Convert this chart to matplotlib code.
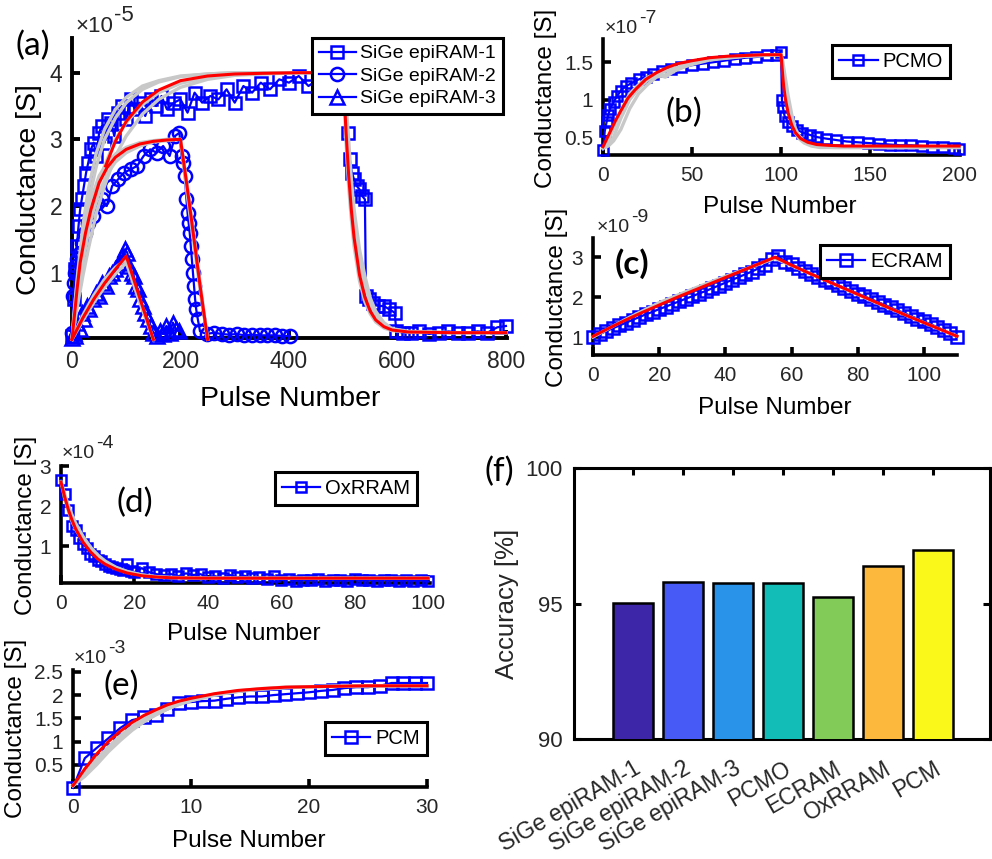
import matplotlib.pyplot as plt
from matplotlib.ticker import FormatStrFormatter
import matplotlib.transforms as mtransforms

plt.rcParams['font.family'] = ['Liberation Sans', 'DejaVu Sans']

W, H = 992, 859
BLUE = '#0000ff'
RED = '#ff0000'
GRAY = '#c8c8c8'
TXT = '#262626'

# ---------------- (a) SiGe epiRAM, conductance in units of 1e-5 S
a1_x = [0, 3, 6, 9, 12, 15, 18, 22, 26, 30, 35, 40, 45, 50, 55, 60, 66, 72, 78, 85,
        92, 100, 108, 116, 125, 135, 145, 155, 165, 175, 188, 200, 213, 226, 240, 255, 270, 285, 300, 316,
        332, 348, 365, 382, 400, 418, 436, 454, 472, 490, 500, 504, 508, 512, 516, 520, 525, 530, 535, 540,
        542, 548, 555, 565, 575, 585, 595, 598, 610, 625, 640, 658, 676, 694, 712, 730, 748, 766, 784, 800]
a1_g = [0.05, 0.6, 1.05, 1.4, 1.7, 1.95, 2.1, 2.3, 2.5, 2.65, 2.85, 2.95, 2.75, 3.1, 3.2, 2.95, 3.3, 3.25, 3.05, 3.4,
        3.5, 3.3, 3.6, 3.45, 3.55, 3.35, 3.6, 3.5, 3.65, 3.45, 3.55, 3.6, 3.4, 3.7, 3.55, 3.65, 3.6, 3.75, 3.55, 3.8,
        3.7, 3.85, 3.75, 3.9, 3.85, 3.95, 3.8, 3.9, 3.85, 3.95, 3.9, 3.5, 3.1, 2.7, 2.5, 2.4, 2.3, 2.25, 2.15, 2.1,
        0.65, 0.6, 0.55, 0.5, 0.5, 0.45, 0.4, 0.12, 0.1, 0.1, 0.12, 0.08, 0.1, 0.12, 0.1, 0.1, 0.12, 0.1, 0.18, 0.2]

a2_x = [0, 2, 4, 6, 8, 10, 14, 18, 24, 30, 38, 46, 55, 64, 74, 85, 96, 108, 120, 132,
        144, 156, 168, 180, 190, 198, 202, 205, 208, 211, 213, 215, 217, 219, 221, 223, 225, 227, 229, 232,
        236, 248, 262, 276, 290, 304, 318, 332, 346, 360, 374, 388, 402]
a2_g = [0.1, 0.65, 0.85, 1.0, 1.1, 1.2, 1.3, 1.45, 1.6, 1.75, 1.85, 2.05, 2.1, 2.0, 2.3, 2.4, 2.5, 2.55, 2.6, 2.75,
        2.85, 2.8, 2.9, 2.75, 3.05, 3.1, 2.75, 2.65, 2.45, 2.1, 1.9, 1.75, 1.6, 1.4, 1.2, 1.0, 0.8, 0.6, 0.45, 0.3,
        0.12, 0.08, 0.1, 0.08, 0.07, 0.08, 0.06, 0.07, 0.06, 0.06, 0.06, 0.05, 0.05]

a3_x = [0, 3, 6, 10, 14, 18, 22, 27, 32, 38, 44, 50, 56, 62, 68, 74, 80, 86, 92, 97,
        102, 106, 110, 114, 118, 122, 126, 130, 135, 140, 145, 150, 156, 162, 168, 174, 180, 186, 192, 198]
a3_g = [0.02, 0.1, 0.05, 0.25, 0.15, 0.4, 0.3, 0.5, 0.45, 0.6, 0.7, 0.65, 0.85, 0.8, 0.95, 1.0, 1.05, 1.15, 1.25, 1.35,
        1.3, 1.1, 1.0, 0.95, 0.8, 0.75, 0.6, 0.5, 0.4, 0.3, 0.2, 0.1, 0.05, 0.12, 0.08, 0.2, 0.1, 0.25, 0.15, 0.12]

# model curves
a_up_x = [0, 10, 20, 30, 45, 60, 80, 100, 130, 160, 200, 250, 300, 350, 420, 500]
a_up_gray = [[0, 0.95, 1.7, 2.25, 2.8, 3.15, 3.45, 3.63, 3.8, 3.88, 3.95, 3.98, 4.0, 4.0, 4.0, 4.0],
             [0, 0.8, 1.5, 2.05, 2.6, 3.0, 3.32, 3.55, 3.75, 3.86, 3.94, 3.98, 4.0, 4.0, 4.0, 4.0],
             [0, 0.6, 1.15, 1.6, 2.2, 2.6, 3.0, 3.25, 3.52, 3.7, 3.84, 3.93, 3.97, 3.99, 4.0, 4.0],
             [0, 0.5, 0.95, 1.35, 1.9, 2.3, 2.75, 3.05, 3.38, 3.6, 3.78, 3.9, 3.96, 3.98, 4.0, 4.0]]
a_dn_x = [500, 505, 510, 515, 520, 530, 540, 550, 560, 575, 590, 620, 700, 800]
a_dn_gray = [[4.0, 3.4, 2.8, 2.3, 1.85, 1.2, 0.8, 0.52, 0.36, 0.22, 0.15, 0.11, 0.1, 0.1],
             [4.0, 3.0, 2.3, 1.8, 1.4, 0.88, 0.56, 0.38, 0.26, 0.17, 0.13, 0.11, 0.1, 0.1],
             [4.0, 3.6, 3.0, 2.4, 1.95, 1.35, 0.95, 0.62, 0.42, 0.25, 0.16, 0.12, 0.1, 0.1]]
a1_fit_x = [62, 80, 100, 130, 160, 200, 250, 300, 350, 420, 500,
            505, 510, 515, 520, 530, 540, 550, 560, 575, 590, 620, 700, 800]
a1_fit_g = [2.6, 2.97, 3.27, 3.56, 3.74, 3.88, 3.95, 3.98, 3.99, 4.0, 4.0,
            3.14, 2.47, 1.94, 1.53, 0.97, 0.63, 0.42, 0.29, 0.19, 0.14, 0.11, 0.1, 0.1]

a2_mx = [0, 5, 10, 15, 25, 35, 50, 65, 80, 100, 125, 150, 175, 200, 212, 225, 237, 250]
a2_fit = [0, 0.4, 0.8, 1.15, 1.6, 1.95, 2.35, 2.58, 2.73, 2.85, 2.93, 2.97, 2.99, 3.0, 2.3, 1.5, 0.75, 0.0]
a2_gray = [[0, 0.5, 0.9, 1.25, 1.75, 2.1, 2.45, 2.65, 2.78, 2.88, 2.95, 2.98, 3.0, 3.0, 2.35, 1.55, 0.8, 0.0],
           [0, 0.3, 0.65, 0.95, 1.45, 1.8, 2.2, 2.48, 2.66, 2.8, 2.9, 2.96, 2.98, 3.0, 2.2, 1.4, 0.7, 0.0]]

a3_mx = [0, 20, 40, 60, 80, 100, 125, 150]
a3_fit = [0, 0.32, 0.6, 0.84, 1.05, 1.25, 0.62, 0.0]
a3_gray = [[0, 0.36, 0.66, 0.9, 1.08, 1.2, 0.6, 0.0],
           [0, 0.28, 0.55, 0.78, 0.98, 1.15, 0.55, 0.0]]

# ---------------- (b) PCMO, units of 1e-7 S
b_x = [0, 1, 2, 3, 4, 6, 8, 10, 13, 16, 20, 24, 28, 33, 38, 44, 50, 56, 62, 68,
       74, 80, 86, 92, 97, 100, 100.5, 101, 102, 104, 106, 109, 112, 116, 120, 125, 131, 137, 143, 149,
       155, 161, 167, 173, 179, 185, 191, 197, 200]
b_g = [0.33, 0.58, 0.7, 0.8, 0.88, 0.97, 1.05, 1.12, 1.18, 1.22, 1.27, 1.3, 1.34, 1.38, 1.41, 1.43, 1.46, 1.48, 1.5, 1.52,
       1.54, 1.56, 1.57, 1.59, 1.6, 1.64, 1.0, 0.9, 0.78, 0.7, 0.65, 0.6, 0.56, 0.53, 0.5, 0.48, 0.46, 0.44, 0.43, 0.42,
       0.41, 0.4, 0.39, 0.39, 0.38, 0.37, 0.37, 0.36, 0.34]
b_fit_x = [0, 2, 4, 7, 10, 14, 18, 24, 30, 36, 42, 50, 60, 70, 80, 90, 100, 100.5, 101, 101.5,
           102.5, 104, 106, 108, 111, 115, 120, 126, 135, 150, 200]
b_fit = [0.37, 0.47, 0.57, 0.72, 0.85, 1.02, 1.13, 1.27, 1.36, 1.43, 1.48, 1.52, 1.56, 1.58, 1.59, 1.6, 1.6, 1.45, 1.3, 1.17,
         1.0, 0.82, 0.66, 0.56, 0.48, 0.43, 0.4, 0.39, 0.38, 0.38, 0.38]
b_up_x = [0, 3, 6, 10, 15, 20, 25, 30, 35, 40, 50, 60, 80, 100]
b_up_gray = [[0.35, 0.38, 0.45, 0.6, 0.88, 1.08, 1.2, 1.3, 1.33, 1.4, 1.47, 1.53, 1.58, 1.6],
             [0.35, 0.4, 0.5, 0.75, 1.0, 1.15, 1.26, 1.33, 1.38, 1.42, 1.49, 1.54, 1.58, 1.6],
             [0.35, 0.45, 0.62, 0.85, 1.08, 1.2, 1.3, 1.34, 1.3, 1.38, 1.48, 1.54, 1.59, 1.6]]
b_dn_x = [100, 101, 102, 104, 106, 108, 110, 113, 117, 122, 130, 150, 200]
b_dn_gray = [[1.6, 1.42, 1.2, 0.88, 0.68, 0.56, 0.48, 0.42, 0.38, 0.36, 0.36, 0.36, 0.36],
             [1.6, 1.5, 1.35, 1.05, 0.8, 0.62, 0.52, 0.44, 0.39, 0.37, 0.36, 0.36, 0.36]]

# ---------------- (c) ECRAM, units of 1e-9 S
c_x = list(range(0, 111, 2))
c_g = [1.0, 1.07, 1.15, 1.22, 1.29, 1.36, 1.43, 1.5, 1.57, 1.63, 1.7, 1.76, 1.83, 1.89, 1.96, 2.02, 2.09, 2.15,
       2.22, 2.29, 2.36, 2.43, 2.5, 2.57, 2.64, 2.72, 2.8, 2.95,
       3.02, 2.89, 2.82, 2.74, 2.66, 2.59, 2.51, 2.44, 2.37, 2.3, 2.23, 2.16, 2.09, 2.02, 1.95, 1.88, 1.81, 1.74,
       1.67, 1.6, 1.53, 1.46, 1.39, 1.32, 1.25, 1.17, 1.09, 1.0]
c_fit_x = [0, 5, 10, 15, 20, 25, 30, 35, 40, 45, 50, 55, 60, 65, 70, 75, 80, 85, 90, 95, 100, 105, 110]
c_fit = [1.02, 1.23, 1.43, 1.62, 1.8, 1.98, 2.15, 2.32, 2.49, 2.66, 2.83, 3.0, 2.8, 2.61, 2.43, 2.25, 2.07, 1.89,
         1.71, 1.53, 1.36, 1.19, 1.02]
c_gray_x = [0, 10, 20, 30, 40, 55, 70, 85, 100, 110]
c_gray = [1.0, 1.45, 1.86, 2.2, 2.52, 2.97, 2.43, 1.88, 1.36, 1.02]

# ---------------- (d) OxRRAM, units of 1e-4 S
d_x = list(range(21)) + list(range(22, 101, 2))
d_g = [2.65, 2.3, 1.9, 1.5, 1.4, 1.2, 1.05, 0.95, 0.8, 0.75, 0.65, 0.62, 0.55, 0.5, 0.48, 0.45, 0.42, 0.4, 0.55, 0.38, 0.35,
       0.45, 0.35, 0.3, 0.28, 0.3, 0.25, 0.32, 0.28, 0.3, 0.22,
       0.25, 0.2, 0.28, 0.22, 0.26, 0.2, 0.22, 0.18, 0.25, 0.15,
       0.18, 0.14, 0.16, 0.15, 0.17, 0.14, 0.16, 0.15, 0.14, 0.17,
       0.15, 0.16, 0.14, 0.16, 0.15, 0.14, 0.15, 0.14, 0.15, 0.12]
d_mx = [0, 1, 2, 3, 4, 6, 8, 10, 12, 15, 18, 22, 26, 30, 40, 100]
d_fit = [2.6, 2.23, 1.91, 1.65, 1.43, 1.1, 0.86, 0.68, 0.55, 0.42, 0.33, 0.26, 0.23, 0.21, 0.2, 0.2]
d_gray = [[2.6, 2.3, 2.02, 1.78, 1.57, 1.24, 0.98, 0.78, 0.63, 0.47, 0.37, 0.28, 0.24, 0.22, 0.2, 0.2],
          [2.6, 2.2, 1.88, 1.62, 1.42, 1.12, 0.9, 0.73, 0.6, 0.46, 0.36, 0.28, 0.23, 0.21, 0.2, 0.2]]

# ---------------- (e) PCM, units of 1e-3 S
e_x = list(range(31))
e_g = [0.0, 0.64, 0.86, 1.07, 1.29, 1.46, 1.52, 1.58, 1.69, 1.83, 1.85, 1.87, 1.88, 1.92, 1.95, 1.97,
       1.97, 2.0, 2.02, 2.04, 2.06, 2.09, 2.11, 2.15, 2.17, 2.17, 2.2, 2.26, 2.26, 2.26, 2.26]
e_mx = [0, 1, 2, 3, 4, 5, 6, 7, 8, 9, 10, 12, 14, 16, 18, 20, 25, 30]
e_fit = [0.05, 0.41, 0.73, 1.0, 1.22, 1.41, 1.56, 1.68, 1.79, 1.87, 1.93, 2.03, 2.1, 2.14, 2.17, 2.18, 2.2, 2.2]
e_gray = [[0.05, 0.3, 0.58, 0.84, 1.07, 1.27, 1.44, 1.58, 1.7, 1.8, 1.88, 2.0, 2.08, 2.13, 2.16, 2.18, 2.2, 2.2],
          [0.05, 0.35, 0.62, 0.88, 1.12, 1.32, 1.5, 1.64, 1.75, 1.84, 1.91, 2.02, 2.09, 2.14, 2.17, 2.18, 2.2, 2.2],
          [0.05, 0.25, 0.5, 0.78, 1.02, 1.24, 1.42, 1.57, 1.7, 1.8, 1.88, 2.0, 2.08, 2.13, 2.16, 2.18, 2.2, 2.2]]

# ---------------- (f) accuracy
devices = ['SiGe epiRAM-1', 'SiGe epiRAM-2', 'SiGe epiRAM-3', 'PCMO', 'ECRAM', 'OxRRAM', 'PCM']
accuracy = [95.02, 95.79, 95.75, 95.77, 95.23, 96.37, 96.96]
bar_colors = ['#3e26a8', '#485af5', '#2893e9', '#13bdb7', '#82cb58', '#fbb83d', '#f9f81a']


def new_axes(fig, left, top, right, bottom):
    return fig.add_axes([left / W, 1 - bottom / H, (right - left) / W, (bottom - top) / H])


def style(ax, lw=2.6, size=15, box=False, xpad=8, ypad=7):
    ax.spines['top'].set_visible(box)
    ax.spines['right'].set_visible(box)
    for sp in ax.spines.values():
        sp.set_linewidth(lw)
        sp.set_capstyle('projecting')
    ax.tick_params(direction='in', length=6, width=lw, labelsize=size, labelcolor=TXT)
    ax.tick_params(axis='x', pad=xpad)
    ax.tick_params(axis='y', pad=ypad)
    ax.yaxis.set_major_formatter(FormatStrFormatter('%g'))
    ax.set_facecolor('none')


def data(ax, x, g, marker, ms, label):
    ax.plot(x, g, color=BLUE, lw=1.6, marker=marker, ms=ms, mfc='none', mec=BLUE, mew=1.8,
            label=label, clip_on=False, zorder=3)


def gray(ax, x, g):
    ax.plot(x, g, color=GRAY, lw=2.4, clip_on=False, zorder=4)


def fit(ax, x, g):
    ax.plot(x, g, color=RED, lw=2.2, clip_on=False, zorder=5)


def legend(ax, fig, right, top, size, hl):
    leg = ax.legend(loc='upper right', bbox_to_anchor=(right / W, 1 - top / H), bbox_transform=fig.transFigure,
                    borderaxespad=0, fontsize=size, fancybox=False, edgecolor='black', framealpha=1,
                    handlelength=hl, handletextpad=0.25, borderpad=0.35, labelspacing=0.25)
    leg.get_frame().set_linewidth(2.2)
    leg.set_zorder(10)


def ftext(fig, x, y, s, **kw):
    return fig.text(x / W, 1 - y / H, s, **kw)


def exponent(fig, ax, x, y, power, size):
    # MATLAB style "x10^n" with a full size exponent
    base = ftext(fig, x, y, '×10', fontsize=size, color=TXT, ha='left', va='baseline')
    ax.annotate(power, xy=(1, 0), xycoords=base, xytext=(0.5, size * 0.5), textcoords='offset points',
                fontsize=size, color=TXT, ha='left', va='bottom', annotation_clip=False)


fig = plt.figure(figsize=(9.92, 8.59), dpi=100)

# (a)
ax = new_axes(fig, 72, 38, 507, 338)
data(ax, a1_x, a1_g, 's', 8, 'SiGe epiRAM-1')
data(ax, a2_x, a2_g, 'o', 9.5, 'SiGe epiRAM-2')
data(ax, a3_x, a3_g, '^', 9.5, 'SiGe epiRAM-3')
for g in a_up_gray:
    gray(ax, a_up_x, g)
for g in a_dn_gray:
    gray(ax, a_dn_x, g)
for g in a2_gray:
    gray(ax, a2_mx, g)
for g in a3_gray:
    gray(ax, a3_mx, g)
fit(ax, a1_fit_x, a1_fit_g)
fit(ax, a2_mx, a2_fit)
fit(ax, a3_mx, a3_fit)
ax.set_xlim(0, 802)
ax.set_ylim(0.02, 4.52)
ax.set_xticks([0, 200, 400, 600, 800])
ax.set_yticks([1, 2, 3, 4])
style(ax, lw=2.8, size=16.5, xpad=9, ypad=7)
legend(ax, fig, 503, 38, 14, 1.9)
exponent(fig, ax, 75, 32, '-5', 16)
ftext(fig, 290, 399, 'Pulse Number', fontsize=20.5, ha='center', va='center')
ftext(fig, 29, 190, 'Conductance [S]', fontsize=20.5, rotation=90, ha='center', va='center')
ftext(fig, 33, 46, '(a)', fontsize=24, family='Lato', ha='center', va='center')

# (b)
ax = new_axes(fig, 603, 39, 960, 155)
data(ax, b_x, b_g, 's', 7, 'PCMO')
for g in b_up_gray:
    gray(ax, b_up_x, g)
for g in b_dn_gray:
    gray(ax, b_dn_x, g)
fit(ax, b_fit_x, b_fit)
ax.set_xlim(0, 200.5)
ax.set_ylim(0.26, 1.81)
ax.set_xticks([0, 50, 100, 150, 200])
ax.set_yticks([0.5, 1, 1.5])
style(ax, size=15)
legend(ax, fig, 950, 45, 14.5, 1.9)
exponent(fig, ax, 605, 33, '-7', 14)
ftext(fig, 780, 207, 'Pulse Number', fontsize=17.5, ha='center', va='center')
ftext(fig, 546, 98, 'Conductance [S]', fontsize=17.5, rotation=90, ha='center', va='center')
ftext(fig, 684, 113, '(b)', fontsize=24, family='Lato', ha='center', va='center')

# (c)
ax = new_axes(fig, 593, 238, 957, 355)
data(ax, c_x, c_g, 's', 8.5, 'ECRAM')
gray(ax, c_gray_x, c_gray)
fit(ax, c_fit_x, c_fit)
ax.set_xlim(0, 110)
ax.set_ylim(0.55, 3.48)
ax.set_xticks([0, 20, 40, 60, 80, 100])
ax.set_yticks([1, 2, 3])
style(ax, size=15)
legend(ax, fig, 950, 245, 14.5, 1.9)
exponent(fig, ax, 597, 232, '-9', 14)
ftext(fig, 775, 408, 'Pulse Number', fontsize=17.5, ha='center', va='center')
ftext(fig, 557, 297, 'Conductance [S]', fontsize=17.5, rotation=90, ha='center', va='center')
ftext(fig, 632, 264, '(c)', fontsize=24, family='Lato', weight='bold', ha='center', va='center')

# (d)
ax = new_axes(fig, 61, 466, 430, 583)
data(ax, d_x, d_g, 's', 7, 'OxRRAM')
for g in d_gray:
    gray(ax, d_mx, g)
fit(ax, d_mx, d_fit)
ax.set_xlim(0, 100.5)
ax.set_ylim(0.08, 3.0)
ax.set_xticks([0, 20, 40, 60, 80, 100])
ax.set_yticks([1, 2, 3])
style(ax, size=15)
legend(ax, fig, 417, 472, 14.5, 1.9)
exponent(fig, ax, 62, 458, '-4', 14)
ftext(fig, 244, 634, 'Pulse Number', fontsize=17.5, ha='center', va='center')
ftext(fig, 26, 525, 'Conductance [S]', fontsize=17.5, rotation=90, ha='center', va='center')
ftext(fig, 135, 503, '(d)', fontsize=24, family='Lato', ha='center', va='center')

# (e)
ax = new_axes(fig, 73, 670, 427, 787)
data(ax, e_x, e_g, 's', 8, 'PCM')
for g in e_gray:
    gray(ax, e_mx, g)
fit(ax, e_mx, e_fit)
ax.set_xlim(0, 30)
ax.set_ylim(0.02, 2.54)
ax.set_xticks([0, 10, 20, 30])
ax.set_yticks([0.5, 1, 1.5, 2, 2.5])
style(ax, size=15)
legend(ax, fig, 427, 722, 14.5, 1.9)
exponent(fig, ax, 74, 663, '-3', 14)
ftext(fig, 249, 841, 'Pulse Number', fontsize=17.5, ha='center', va='center')
ftext(fig, 16, 728, 'Conductance [S]', fontsize=17.5, rotation=90, ha='center', va='center')
ftext(fig, 121, 686, '(e)', fontsize=24, family='Lato', ha='center', va='center')

# (f)
ax = new_axes(fig, 574, 468, 990, 739)
pos = list(range(1, len(devices) + 1))
ax.bar(pos, accuracy, width=0.8, color=bar_colors, edgecolor='black', linewidth=1.8, zorder=3)
ax.set_xlim(-0.18, 8.14)
ax.set_ylim(90, 100)
ax.set_yticks([90, 95, 100])
ax.set_xticks(pos)
ax.set_xticklabels(devices, rotation=30, ha='right', rotation_mode='anchor', va='center')
style(ax, lw=2.2, size=16, box=True, xpad=20, ypad=8)
ax.tick_params(top=True, right=True, length=5)
ax.tick_params(axis='x', labelsize=16.5)
shift = mtransforms.ScaledTranslation(6 / 100, 0, fig.dpi_scale_trans)
for lbl in ax.get_xticklabels():
    lbl.set_transform(lbl.get_transform() + shift)
ftext(fig, 507, 604, 'Accuracy [%]', fontsize=18.5, color=TXT, rotation=90, ha='center', va='center')
ftext(fig, 499, 472, '(f)', fontsize=24, family='Lato', ha='center', va='center')

fig.savefig('out.png', dpi=100, facecolor='white')
